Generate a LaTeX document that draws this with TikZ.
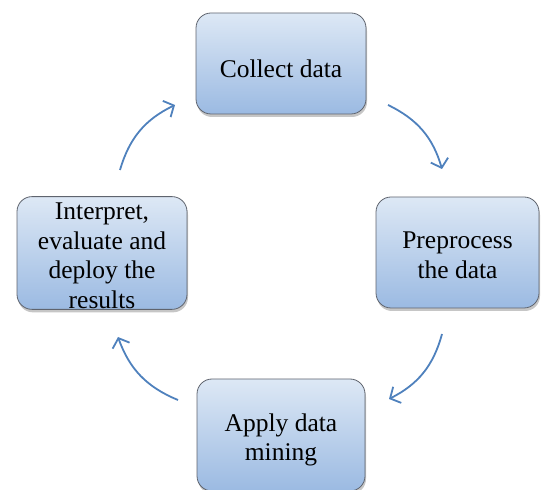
\documentclass[tikz,border=0pt]{standalone}
\usepackage{fontspec}
\setmainfont{Liberation Serif}
\usetikzlibrary{shadows,arrows.meta}
\definecolor{boxtop}{RGB}{221,232,245}
\definecolor{boxbottom}{RGB}{155,186,226}
\definecolor{boxline}{RGB}{95,100,110}
\definecolor{arrowblue}{RGB}{79,129,189}
% invisible rule that pushes the first line of a label down a little
\newcommand{\toplift}[1]{\rule{0pt}{#1}}
\tikzset{
  stagebox/.style={draw=boxline, line width=0.8pt, rounded corners=15pt,
    top color=boxtop, bottom color=boxbottom, align=center,
    font=\fontsize{25.5}{29.5}\selectfont, inner sep=1pt,
    drop shadow={shadow xshift=1pt, shadow yshift=-3pt, opacity=0.45}},
  cyclearrow/.style={draw=arrowblue, line width=1.8pt, bend left=24,
    -{Straight Barb[length=8pt, width=18pt, line width=1.8pt]}}
}
\begin{document}
\begin{tikzpicture}[x=1pt,y=1pt]
\useasboundingbox (0,0) rectangle (541,490);
\node[stagebox, minimum width=170pt, minimum height=101pt] (collect) at (281,426.5) {\toplift{28pt}Collect data};
\node[stagebox, minimum width=163pt, minimum height=111pt] (prep) at (457.5,237.5) {\toplift{22pt}Preprocess\\the data};
\node[stagebox, minimum width=168pt, minimum height=112pt] (mine) at (281,55) {\toplift{28pt}Apply data\\mining};
\node[stagebox, minimum width=170pt, minimum height=112pt] (interp) at (102,237) {\toplift{22pt}Interpret,\\evaluate and\\deploy the\\results};
\coordinate (a1s) at (388,385); \coordinate (a1e) at (442,321);
\coordinate (a2s) at (442,156); \coordinate (a2e) at (389,91);
\coordinate (a3s) at (178,90);  \coordinate (a3e) at (118,153);
\coordinate (a4s) at (120,320); \coordinate (a4e) at (175,385);
\draw[cyclearrow] (a1s) to (a1e);
\draw[cyclearrow] (a2s) to (a2e);
\draw[cyclearrow] (a3s) to (a3e);
\draw[cyclearrow] (a4s) to (a4e);
\end{tikzpicture}
\end{document}
